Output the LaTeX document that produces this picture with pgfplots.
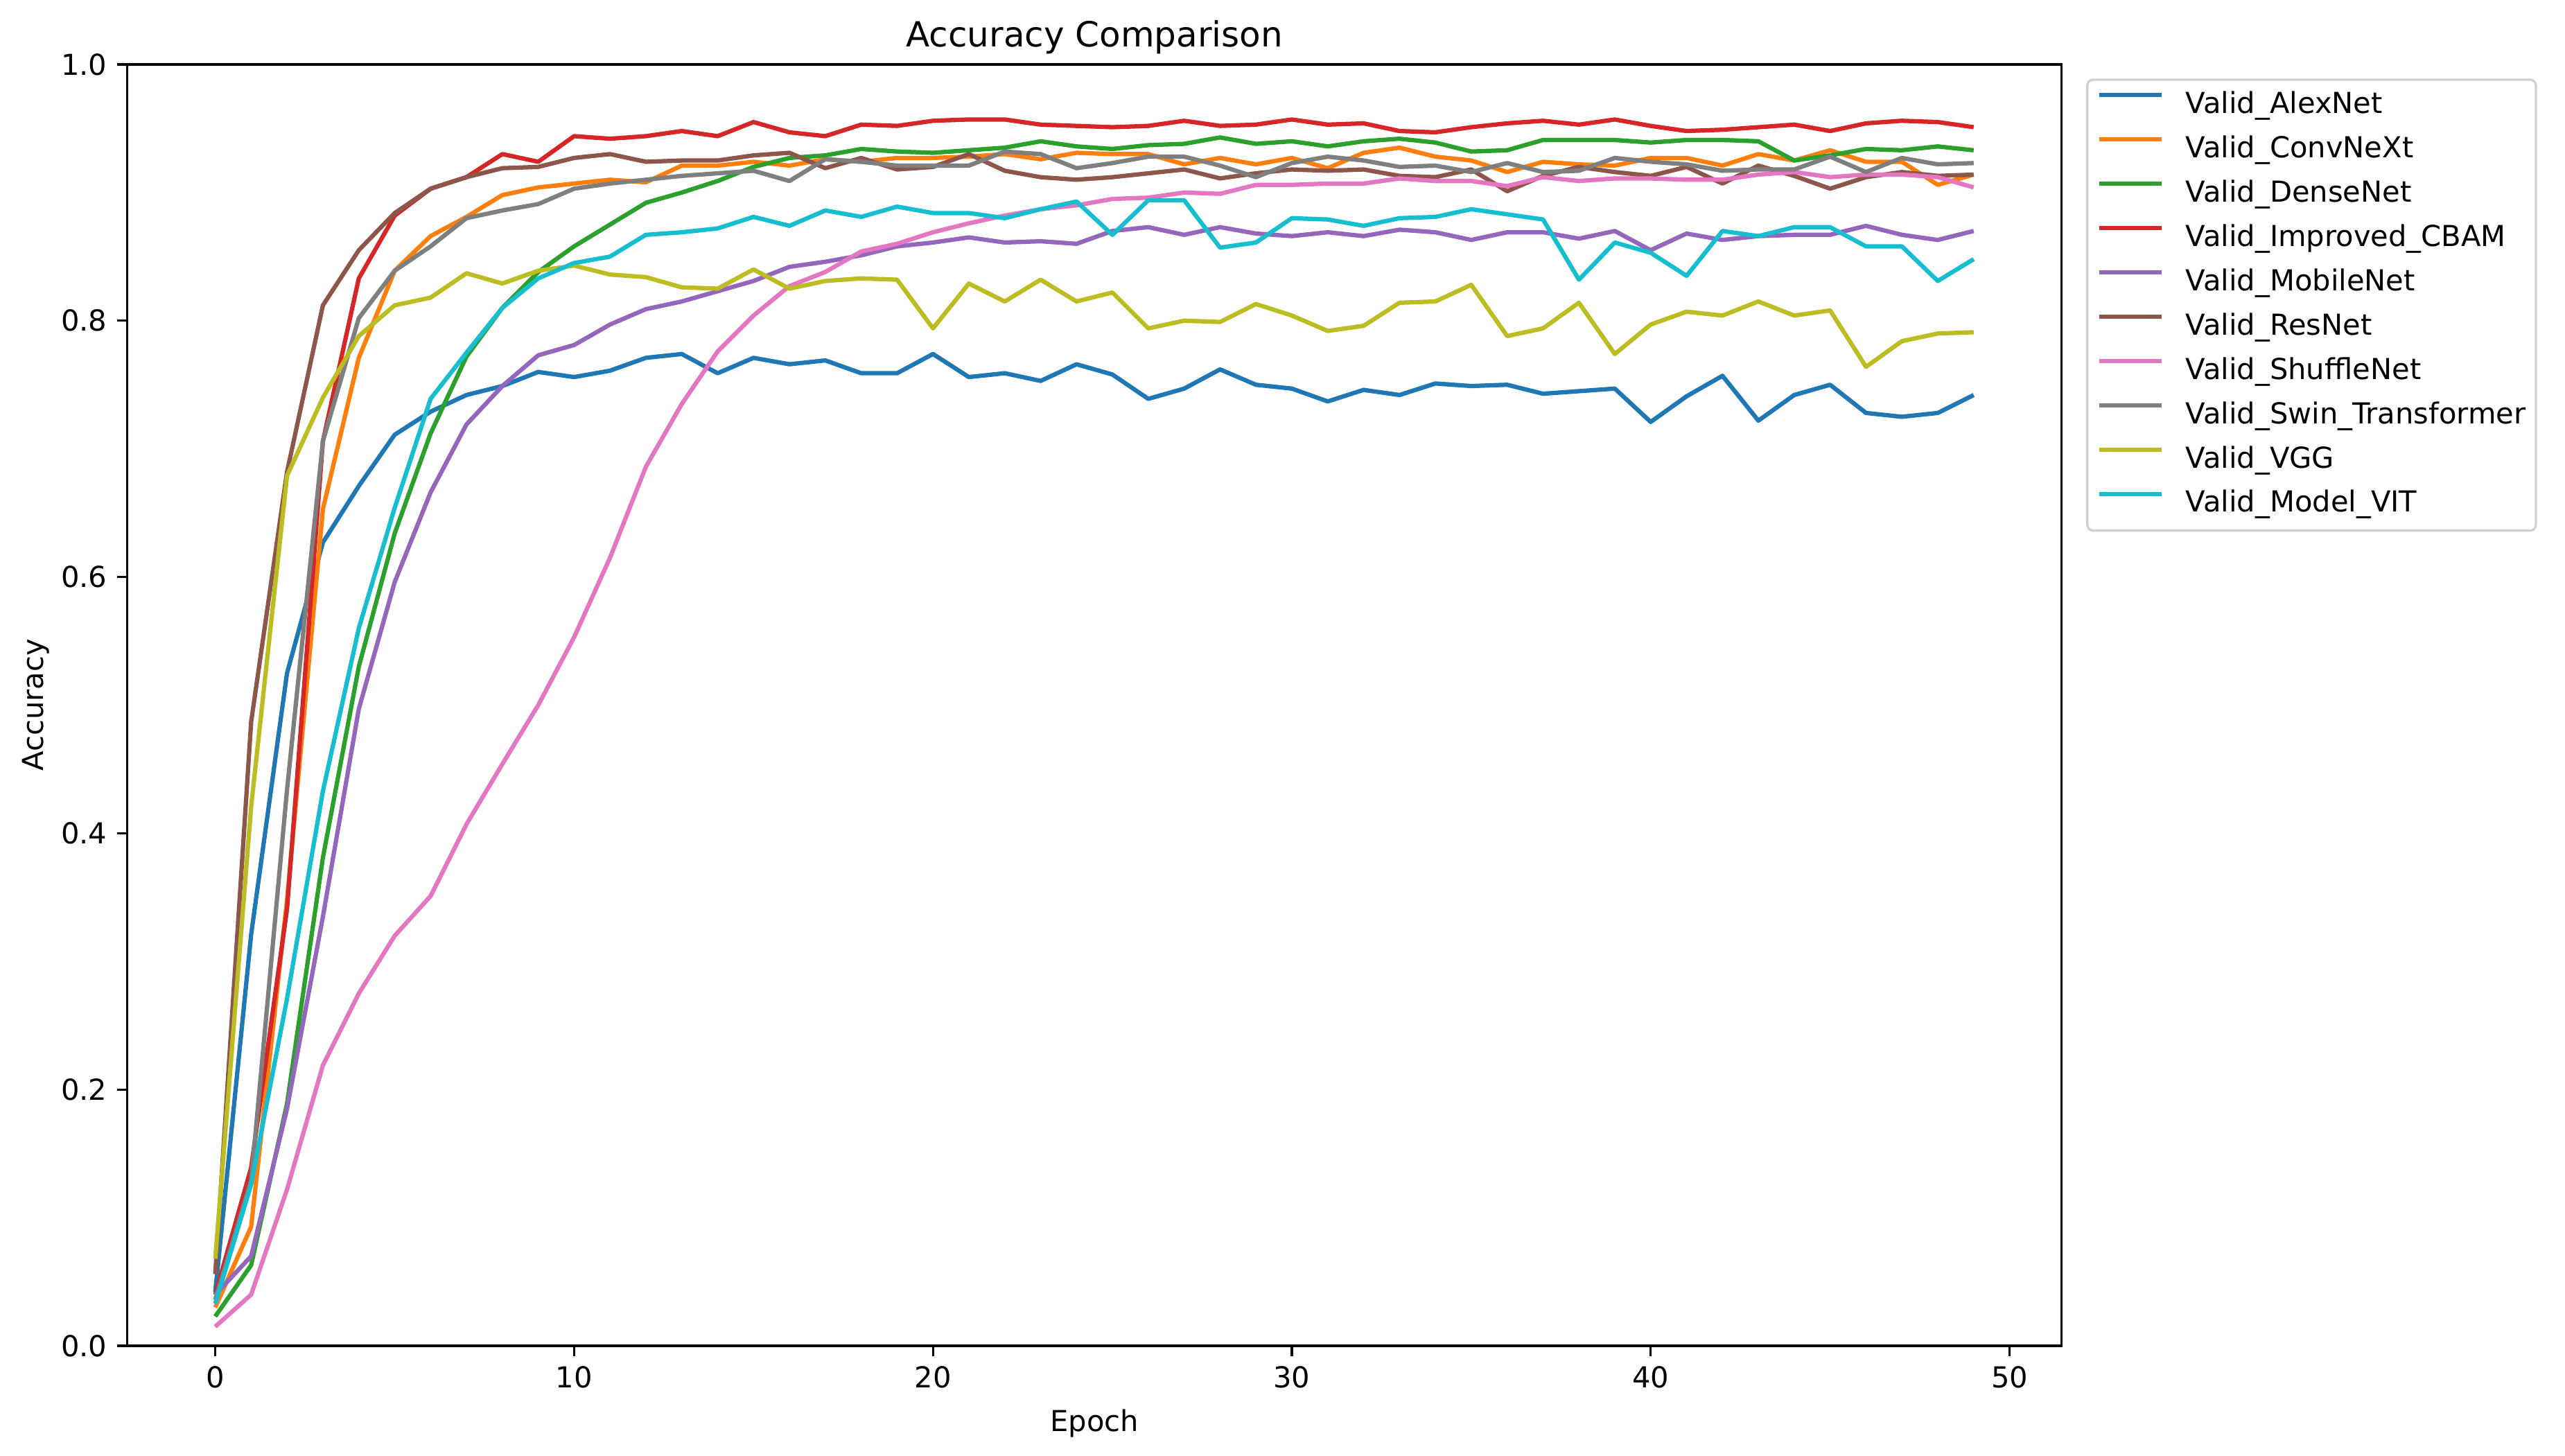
\documentclass[border=0pt]{standalone}
\usepackage{fontspec}
\setmainfont{DejaVu Sans}
\usepackage{pgfplots}
\usepackage{pgfplotstable}
\pgfplotsset{compat=1.18}
\definecolor{c0}{HTML}{1F77B4}
\definecolor{c1}{HTML}{FF7F0E}
\definecolor{c2}{HTML}{2CA02C}
\definecolor{c3}{HTML}{D62728}
\definecolor{c4}{HTML}{9467BD}
\definecolor{c5}{HTML}{8C564B}
\definecolor{c6}{HTML}{E377C2}
\definecolor{c7}{HTML}{7F7F7F}
\definecolor{c8}{HTML}{BCBD22}
\definecolor{c9}{HTML}{17BECF}
\pgfplotstableread{
ep alex conv dense cbam mobile res shuffle swin vgg vit
0 0.042 0.030 0.023 0.040 0.040 0.056 0.015 0.036 0.068 0.033
1 0.321 0.093 0.063 0.139 0.070 0.487 0.040 0.129 0.421 0.126
2 0.525 0.348 0.189 0.341 0.185 0.682 0.122 0.434 0.679 0.271
3 0.627 0.653 0.381 0.706 0.335 0.812 0.219 0.706 0.740 0.433
4 0.671 0.771 0.530 0.833 0.497 0.855 0.275 0.802 0.788 0.560
5 0.711 0.839 0.634 0.882 0.596 0.884 0.320 0.839 0.812 0.654
6 0.729 0.866 0.712 0.903 0.666 0.903 0.351 0.858 0.818 0.739
7 0.742 0.881 0.772 0.912 0.719 0.912 0.407 0.880 0.837 0.775
8 0.749 0.898 0.810 0.930 0.749 0.919 0.454 0.886 0.829 0.810
9 0.760 0.904 0.838 0.924 0.773 0.920 0.500 0.891 0.839 0.833
10 0.756 0.907 0.858 0.944 0.781 0.927 0.553 0.903 0.843 0.845
11 0.761 0.910 0.875 0.942 0.797 0.930 0.615 0.907 0.836 0.850
12 0.771 0.908 0.892 0.944 0.809 0.924 0.686 0.910 0.834 0.867
13 0.774 0.921 0.900 0.948 0.815 0.925 0.735 0.913 0.826 0.869
14 0.759 0.921 0.909 0.944 0.823 0.925 0.776 0.915 0.825 0.872
15 0.771 0.924 0.920 0.955 0.831 0.929 0.804 0.917 0.840 0.881
16 0.766 0.921 0.927 0.947 0.842 0.931 0.827 0.909 0.825 0.874
17 0.769 0.926 0.929 0.944 0.846 0.919 0.838 0.926 0.831 0.886
18 0.759 0.924 0.934 0.953 0.851 0.927 0.854 0.924 0.833 0.881
19 0.759 0.927 0.932 0.952 0.858 0.918 0.860 0.921 0.832 0.889
20 0.774 0.927 0.931 0.956 0.861 0.920 0.869 0.921 0.794 0.884
21 0.756 0.928 0.933 0.957 0.865 0.930 0.876 0.921 0.829 0.884
22 0.759 0.930 0.935 0.957 0.861 0.917 0.882 0.932 0.815 0.880
23 0.753 0.926 0.940 0.953 0.862 0.912 0.887 0.930 0.832 0.887
24 0.766 0.931 0.936 0.952 0.860 0.910 0.890 0.919 0.815 0.893
25 0.758 0.930 0.934 0.951 0.870 0.912 0.895 0.923 0.822 0.867
26 0.739 0.930 0.937 0.952 0.873 0.915 0.896 0.928 0.794 0.894
27 0.747 0.922 0.938 0.956 0.867 0.918 0.900 0.928 0.800 0.894
28 0.762 0.927 0.943 0.952 0.873 0.911 0.899 0.921 0.799 0.857
29 0.750 0.922 0.938 0.953 0.868 0.915 0.906 0.912 0.813 0.861
30 0.747 0.927 0.940 0.957 0.866 0.918 0.906 0.923 0.804 0.880
31 0.737 0.919 0.936 0.953 0.869 0.917 0.907 0.928 0.792 0.879
32 0.746 0.931 0.940 0.954 0.866 0.918 0.907 0.925 0.796 0.874
33 0.742 0.935 0.942 0.948 0.871 0.913 0.911 0.920 0.814 0.880
34 0.751 0.928 0.939 0.947 0.869 0.912 0.909 0.921 0.815 0.881
35 0.749 0.925 0.932 0.951 0.863 0.918 0.909 0.916 0.828 0.887
36 0.750 0.916 0.933 0.954 0.869 0.901 0.905 0.923 0.788 0.883
37 0.743 0.924 0.941 0.956 0.869 0.913 0.912 0.916 0.794 0.879
38 0.745 0.922 0.941 0.953 0.864 0.920 0.909 0.917 0.814 0.832
39 0.747 0.921 0.941 0.957 0.870 0.916 0.911 0.927 0.774 0.861
40 0.721 0.927 0.939 0.952 0.855 0.913 0.911 0.924 0.797 0.853
41 0.741 0.927 0.941 0.948 0.868 0.920 0.910 0.922 0.807 0.835
42 0.757 0.921 0.941 0.949 0.863 0.907 0.910 0.917 0.804 0.870
43 0.722 0.930 0.940 0.951 0.866 0.921 0.914 0.918 0.815 0.866
44 0.742 0.925 0.925 0.953 0.867 0.913 0.916 0.918 0.804 0.873
45 0.750 0.933 0.929 0.948 0.867 0.903 0.912 0.928 0.808 0.873
46 0.728 0.924 0.934 0.954 0.874 0.912 0.914 0.916 0.764 0.858
47 0.725 0.924 0.933 0.956 0.867 0.916 0.914 0.927 0.784 0.858
48 0.728 0.906 0.936 0.955 0.863 0.913 0.912 0.922 0.790 0.831
49 0.742 0.914 0.933 0.951 0.870 0.914 0.904 0.923 0.791 0.848
}\datatable
\begin{document}
\begin{tikzpicture}
\path[use as bounding box] (0,0) rectangle (888.24pt,504pt);
\begin{axis}[
  at={(44.1pt,37.9pt)}, anchor=south west,
  scale only axis, width=669.8pt, height=443.8pt,
  xmin=-2.45, xmax=51.45, ymin=0, ymax=1,
  xtick={0,10,20,30,40,50},
  ytick={0,0.2,0.4,0.6,0.8,1},
  xtick pos=lower, ytick pos=left,
  tick align=outside,
  major tick length=3.5pt,
  every tick/.style={black, line width=0.8pt},
  axis line style={line width=0.8pt},
  /pgf/number format/assume math mode=true,
  ticklabel style={font=\fontsize{10}{12}\selectfont},
  yticklabel style={/pgf/number format/fixed, /pgf/number format/precision=1, /pgf/number format/fixed zerofill},
  title={Accuracy Comparison},
  title style={at={(axis description cs:0.5,1)}, anchor=base, inner sep=0pt, font=\fontsize{12}{14}\selectfont},
  xlabel={Epoch},
  xlabel style={at={(axis description cs:0.5,-0.0667)}, anchor=base, inner sep=0pt, font=\fontsize{10}{12}\selectfont},
  ylabel={Accuracy},
  ylabel style={at={(axis description cs:-0.0436,0.5)}, anchor=base, inner sep=0pt, font=\fontsize{10}{12}\selectfont},
  legend style={at={(1.0127,0.98896)}, anchor=north west, draw=black!18, line width=0.8pt, rounded corners=2pt,
    font=\fontsize{10}{12}\selectfont, inner xsep=3.5pt, inner ysep=4pt, row sep=5.35pt, column sep=7.7pt,
    nodes={inner sep=0pt, text height=7.6pt, text depth=2.4pt}},
  legend cell align=left,
  legend image code/.code={\draw[#1, line width=1.5pt] (0pt,3.65pt) -- (21.4pt,3.65pt);},
  every axis plot/.append style={line width=1.5pt, line join=round},
]
\addplot[c0] table[x=ep,y=alex]{\datatable};
\addlegendentry{Valid\_AlexNet}
\addplot[c1] table[x=ep,y=conv]{\datatable};
\addlegendentry{Valid\_ConvNeXt}
\addplot[c2] table[x=ep,y=dense]{\datatable};
\addlegendentry{Valid\_DenseNet}
\addplot[c3] table[x=ep,y=cbam]{\datatable};
\addlegendentry{Valid\_Improved\_CBAM}
\addplot[c4] table[x=ep,y=mobile]{\datatable};
\addlegendentry{Valid\_MobileNet}
\addplot[c5] table[x=ep,y=res]{\datatable};
\addlegendentry{Valid\_ResNet}
\addplot[c6] table[x=ep,y=shuffle]{\datatable};
\addlegendentry{Valid\_ShuffleNet}
\addplot[c7] table[x=ep,y=swin]{\datatable};
\addlegendentry{Valid\_Swin\_Transformer}
\addplot[c8] table[x=ep,y=vgg]{\datatable};
\addlegendentry{Valid\_VGG}
\addplot[c9] table[x=ep,y=vit]{\datatable};
\addlegendentry{Valid\_Model\_VIT}
\end{axis}
\end{tikzpicture}
\end{document}
